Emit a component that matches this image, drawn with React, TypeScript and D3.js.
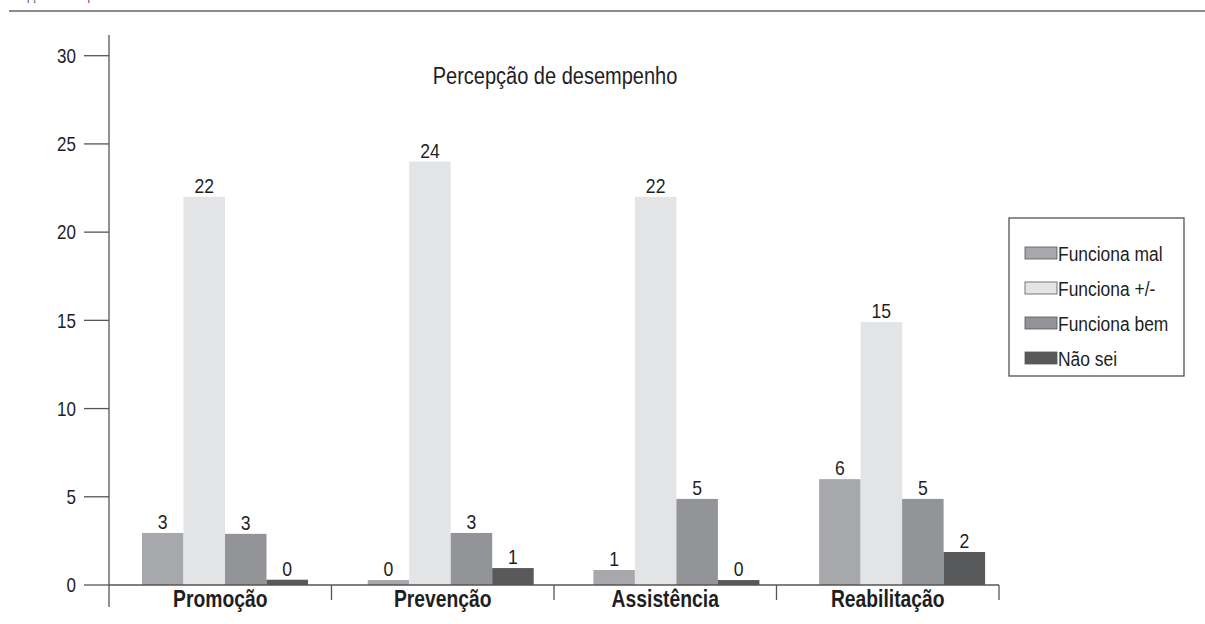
import React from "react";
import * as d3 from "d3";

const categories = ["Promoção", "Prevenção", "Assistência", "Reabilitação"];
const seriesNames = ["Funciona mal", "Funciona +/-", "Funciona bem", "Não sei"];
const funcionaMal = [2.95, 0.28, 0.85, 6.0];
const funcionaMaisMenos = [22.0, 24.0, 22.0, 14.9];
const funcionaBem = [2.9, 2.95, 4.88, 4.88];
const naoSei = [0.3, 0.96, 0.28, 1.87];
const seriesValues = [funcionaMal, funcionaMaisMenos, funcionaBem, naoSei];
const seriesColors = ["#a7a8ab", "#e3e4e6", "#939497", "#58595b"];
const yTicks = [0, 5, 10, 15, 20, 25, 30];
const chartTitle = "Percepção de desempenho";

const FONT = "'Liberation Sans', Arial, 'Helvetica', sans-serif";

type TProps = {
  x: number;
  y: number;
  size: number;
  sx?: number;
  anchor?: "start" | "middle" | "end";
  weight?: string;
  dy?: string;
  children: React.ReactNode;
};

function T({ x, y, size, sx = 0.88, anchor = "start", weight = "normal", dy, children }: TProps) {
  return (
    <text
      transform={`translate(${x},${y}) scale(${sx},1)`}
      dy={dy}
      textAnchor={anchor}
      fontFamily={FONT}
      fontSize={size}
      fontWeight={weight}
      fill="#1e1e1e"
    >
      {children}
    </text>
  );
}

export default function App() {
  const W = 1205, H = 624;
  const y = d3.scaleLinear().domain([0, 30]).range([585, 55.7]);
  const xAxis = d3.scaleBand<string>().domain(categories).range([109, 999]);
  const xGroup = d3.scaleBand<string>().domain(categories).range([142, 142 + 4 * 225.7]);
  const xInner = d3.scaleBand<string>().domain(seriesNames).range([0, 166]);
  const axisColor = "#555";

  return (
    <svg width={W} height={H} style={{ position: "absolute", left: 0, top: 0, background: "#fff" }}>
      {/* cut-off header */}
      <T x={4} y={-0.5} size={12} sx={0.74}>{chartTitle}</T>
      <line x1={9} x2={W} y1={11} y2={11} stroke="#666" strokeWidth={1.5} />

      {/* y axis */}
      <line x1={109} x2={109} y1={35} y2={607} stroke={axisColor} strokeWidth={1.3} />
      {yTicks.map((t) => (
        <g key={t}>
          <line x1={84} x2={109} y1={y(t)} y2={y(t)} stroke={axisColor} strokeWidth={1.3} />
          <T x={76} y={y(t)} dy="0.36em" anchor="end" size={20} sx={0.85}>{t}</T>
        </g>
      ))}

      {/* bars */}
      {categories.map((c, ci) => (
        <g key={c}>
          {seriesNames.map((s, si) => {
            const v = seriesValues[si][ci];
            const bx = (xGroup(c) as number) + (xInner(s) as number);
            const bw = xInner.bandwidth();
            return (
              <g key={s}>
                <rect x={bx} y={y(v)} width={bw} height={y(0) - y(v)} fill={seriesColors[si]} />
                <T x={bx + bw / 2} y={y(v) - 4} anchor="middle" size={20} sx={0.88}>{Math.round(v)}</T>
              </g>
            );
          })}
        </g>
      ))}

      {/* x axis */}
      <line x1={109} x2={999} y1={585} y2={585} stroke={axisColor} strokeWidth={1.3} />
      {categories.map((c, i) => (
        <g key={c}>
          {i > 0 && <line x1={xAxis(c)} x2={xAxis(c)} y1={585} y2={600} stroke={axisColor} strokeWidth={1.3} />}
          <T x={(xAxis(c) as number) + xAxis.bandwidth() / 2} y={607} anchor="middle" weight="bold" size={23} sx={0.84}>{c}</T>
        </g>
      ))}
      <line x1={999} x2={999} y1={585} y2={600} stroke={axisColor} strokeWidth={1.3} />

      {/* title */}
      <T x={555} y={84} anchor="middle" size={23} sx={0.87}>{chartTitle}</T>

      {/* legend */}
      <rect x={1009} y={218} width={175} height={158} fill="#fff" stroke="#444" strokeWidth={1.2} />
      {seriesNames.map((s, i) => {
        const cy = 253 + i * 35;
        return (
          <g key={s}>
            <rect x={1025} y={cy - 6} width={32} height={12} fill={seriesColors[i]} stroke="#555" strokeWidth={0.8} />
            <T x={1058} y={cy} dy="0.36em" size={21} sx={0.83}>{s}</T>
          </g>
        );
      })}
    </svg>
  );
}
